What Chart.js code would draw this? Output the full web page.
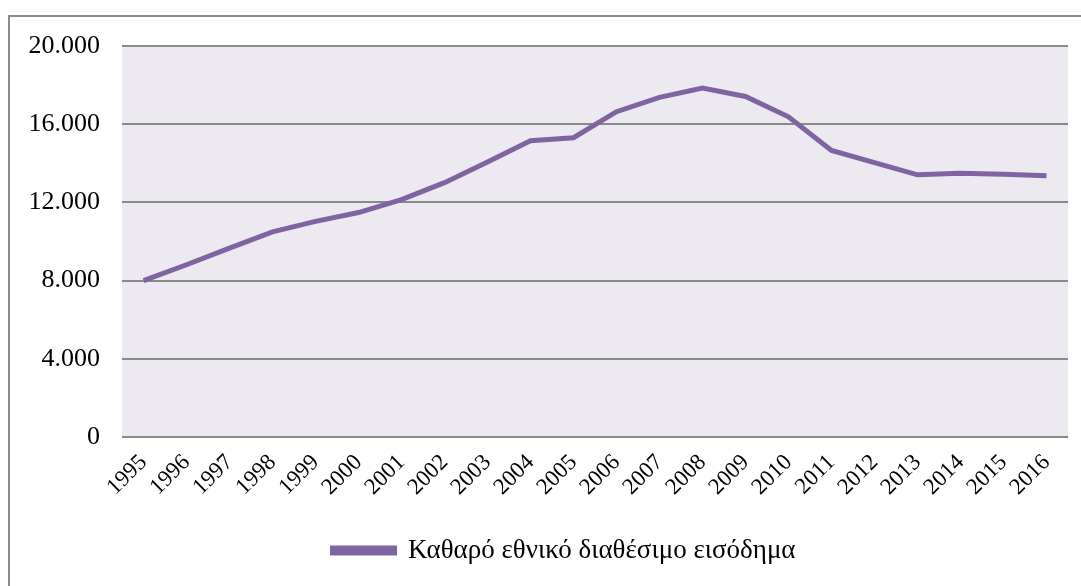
<!DOCTYPE html>
<html>
<head>
<meta charset="utf-8">
<script src="https://cdn.jsdelivr.net/npm/chart.js@4/dist/chart.umd.min.js"></script>
<style>
  html, body { margin: 0; padding: 0; background: #fff; overflow: hidden; }
  #frame { position: absolute; left: 8px; top: 15px; width: 1100px; height: 600px; border: 2px solid #8c8c8c; }
  #wrap { position: absolute; left: 0; top: 0; width: 1081px; height: 586px; }
</style>
</head>
<body>
<div id="frame"></div>
<div id="wrap"><canvas id="lineChart"></canvas></div>
<script>
var years = ["1995", "1996", "1997", "1998", "1999", "2000", "2001", "2002", "2003", "2004", "2005",
             "2006", "2007", "2008", "2009", "2010", "2011", "2012", "2013", "2014", "2015", "2016"];
var income = [8000, 8810, 9660, 10490, 11030, 11480, 12140, 13010, 14070, 15150, 15310,
              16640, 17370, 17850, 17420, 16380, 14660, 14030, 13410, 13490, 13440, 13360];
var yTicks = [0, 4000, 8000, 12000, 16000, 20000];
var seriesName = "Καθαρό εθνικό διαθέσιμο εισόδημα";

function fmt(v)
{
    return String(v).replace(/\B(?=(\d{3})+(?!\d))/g, ".");
}

// grey-lilac plot background
var plotBg = {
    id: "plotBg",
    beforeDraw: function(chart)
    {
        var a = chart.chartArea, c = chart.ctx;
        c.save();
        c.fillStyle = "#ECEAF0";
        c.fillRect(a.left, a.top, a.right - a.left, a.bottom - a.top);
        c.restore();
    }
};

// legend sits centred under the plot, not the whole canvas
var legendShift = {
    id: "legendShift",
    afterLayout: function(chart)
    {
        chart.legend.left += 30;
        chart.legend.right += 30;
    }
};

new Chart("lineChart", {
    type: "line",
    data: {
        labels: years,
        datasets: [{
            label: seriesName,
            data: income,
            borderColor: "#8064A2",
            backgroundColor: "#8064A2",
            borderWidth: 5,
            pointRadius: 0,
            tension: 0,
            fill: false
        }]
    },
    options: {
        responsive: true,
        maintainAspectRatio: false,
        animation: false,
        layout: { padding: { top: 46, right: 13, left: 0, bottom: 12 } },
        plugins: {
            tooltip: { enabled: false },
            legend: {
                position: "bottom",
                labels: {
                    boxWidth: 62,
                    boxHeight: 5,
                    padding: 10,
                    color: "#000",
                    font: { family: "'Liberation Serif', serif", size: 27 }
                }
            }
        },
        scales: {
            x: {
                offset: true,
                grid: { display: false },
                border: { display: false },
                afterFit: function(s) { s.height = 90; },
                ticks: {
                    color: "#000",
                    autoSkip: false,
                    minRotation: 45,
                    maxRotation: 45,
                    padding: 4,
                    font: { family: "'Liberation Serif', serif", size: 23 }
                }
            },
            y: {
                min: 0,
                max: 20000,
                afterFit: function(s) { s.width = 122; },
                afterBuildTicks: function(s) { s.ticks = yTicks.map(function(v) { return { value: v }; }); },
                grid: { color: "#8a8a8a", lineWidth: 2, drawTicks: false },
                border: { display: false },
                ticks: {
                    color: "#000",
                    padding: 22,
                    font: { family: "'Liberation Serif', serif", size: 26 },
                    callback: function(v) { return fmt(v); }
                }
            }
        }
    },
    plugins: [plotBg, legendShift]
});
</script>
</body>
</html>
